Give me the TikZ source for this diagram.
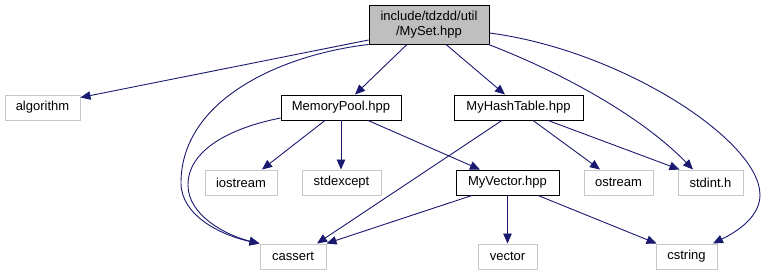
\documentclass[tikz,border=0pt]{standalone}
\usepackage{fontspec}
\setmainfont{Liberation Sans}
\usetikzlibrary{arrows.meta,calc}
\definecolor{edgeblue}{HTML}{191970}
\definecolor{boxgrey}{HTML}{BFBFBF}
\definecolor{sysgrey}{HTML}{C8C8C8}
\begin{document}
\begin{tikzpicture}[x=1pt,y=-1pt,
  every node/.style={font=\fontsize{13}{15}\selectfont, inner sep=0pt, rectangle, minimum height=25pt},
  hdr/.style={draw=black, fill=boxgrey, line width=0.9pt},
  local/.style={draw=black, fill=white, line width=0.9pt},
  sys/.style={draw=sysgrey, fill=white, line width=1pt},
  dep/.style={draw=edgeblue, line width=0.9pt, -{Triangle[length=10pt,width=8.5pt]}}]
\useasboundingbox (0,0) rectangle (766,276);

% file boxes
\node[hdr, minimum width=120pt, minimum height=39pt, align=center] (myset) at (429,24.5) {include/tdzdd/util\\/MySet.hpp};
\node[sys, minimum width=75pt] (algorithm) at (42.5,107.5) {algorithm};
\node[local, minimum width=120pt] (memorypool) at (341,107.5) {MemoryPool.hpp};
\node[local, minimum width=129pt] (myhashtable) at (518.5,107.5) {MyHashTable.hpp};
\node[sys, minimum width=72pt] (iostream) at (241,182.5) {iostream};
\node[sys, minimum width=79pt] (stdexcept) at (341.5,182.5) {stdexcept};
\node[local, minimum width=103pt] (myvector) at (507.5,182.5) {MyVector.hpp};
\node[sys, minimum width=69pt] (ostream) at (618.5,182.5) {ostream};
\node[sys, minimum width=65pt] (stdint) at (710.5,182.5) {stdint.h};
\node[sys, minimum width=66pt] (cassert) at (293,256.5) {cassert};
\node[sys, minimum width=59pt] (vector) at (507.5,256.5) {vector};
\node[sys, minimum width=61pt] (cstring) at (686.5,256.5) {cstring};

% include edges of MySet.hpp
\draw[dep] ($(myset.west)+(0,15.5)$) -- ($(algorithm.north east)+(0,3)$);
\draw[dep] ($(myset.south)+(-22,0)$) -- ($(memorypool.north)+(14,0)$);
\draw[dep] ($(myset.south)+(17,0)$) -- ($(myhashtable.north)+(-13.5,0)$);
\draw[dep] (myset.south west) .. controls (280,55) and (181,100) .. (181,183)
  .. controls (181,215) and (220,235) .. (cassert.north west);
\draw[dep] ($(myset.south east)+(-1,0)$) .. controls (560,72) and (640,115) .. ($(stdint.north)+(-17.5,0)$);
\draw[dep] ($(myset.east)+(0,8.5)$) .. controls (620,50) and (760,140) .. (760,195)
  .. controls (760,220) and (730,235) .. ($(cstring.north)+(26.5,0)$);

% include edges of MemoryPool.hpp
\draw[dep] ($(memorypool.west)+(0,10.5)$) .. controls (230,128) and (188,150) .. (188,185)
  .. controls (188,215) and (225,235) .. (cassert.north west);
\draw[dep] ($(memorypool.south)+(-16,0)$) -- ($(iostream.north)+(21,0)$);
\draw[dep] (memorypool.south) -- (memorypool.south |- stdexcept.north);
\draw[dep] ($(memorypool.south)+(27,0)$) -- ($(myvector.north)+(-27.5,0)$);

% include edges of MyHashTable.hpp
\draw[dep] ($(myhashtable.south)+(-16.5,0)$) -- ($(cassert.north)+(24,0)$);
\draw[dep] ($(myhashtable.south)+(14.5,0)$) -- ($(ostream.north)+(-18.5,0)$);
\draw[dep] ($(myhashtable.south)+(29.5,0)$) -- ($(stdint.north west)+(2,0)$);

% include edges of MyVector.hpp
\draw[dep] ($(myvector.south)+(-35.5,0)$) -- (cassert.north east);
\draw[dep] (myvector.south) -- (vector.north);
\draw[dep] ($(myvector.south)+(30.5,0)$) -- ($(cstring.north west)+(1,0)$);
\end{tikzpicture}
\end{document}
